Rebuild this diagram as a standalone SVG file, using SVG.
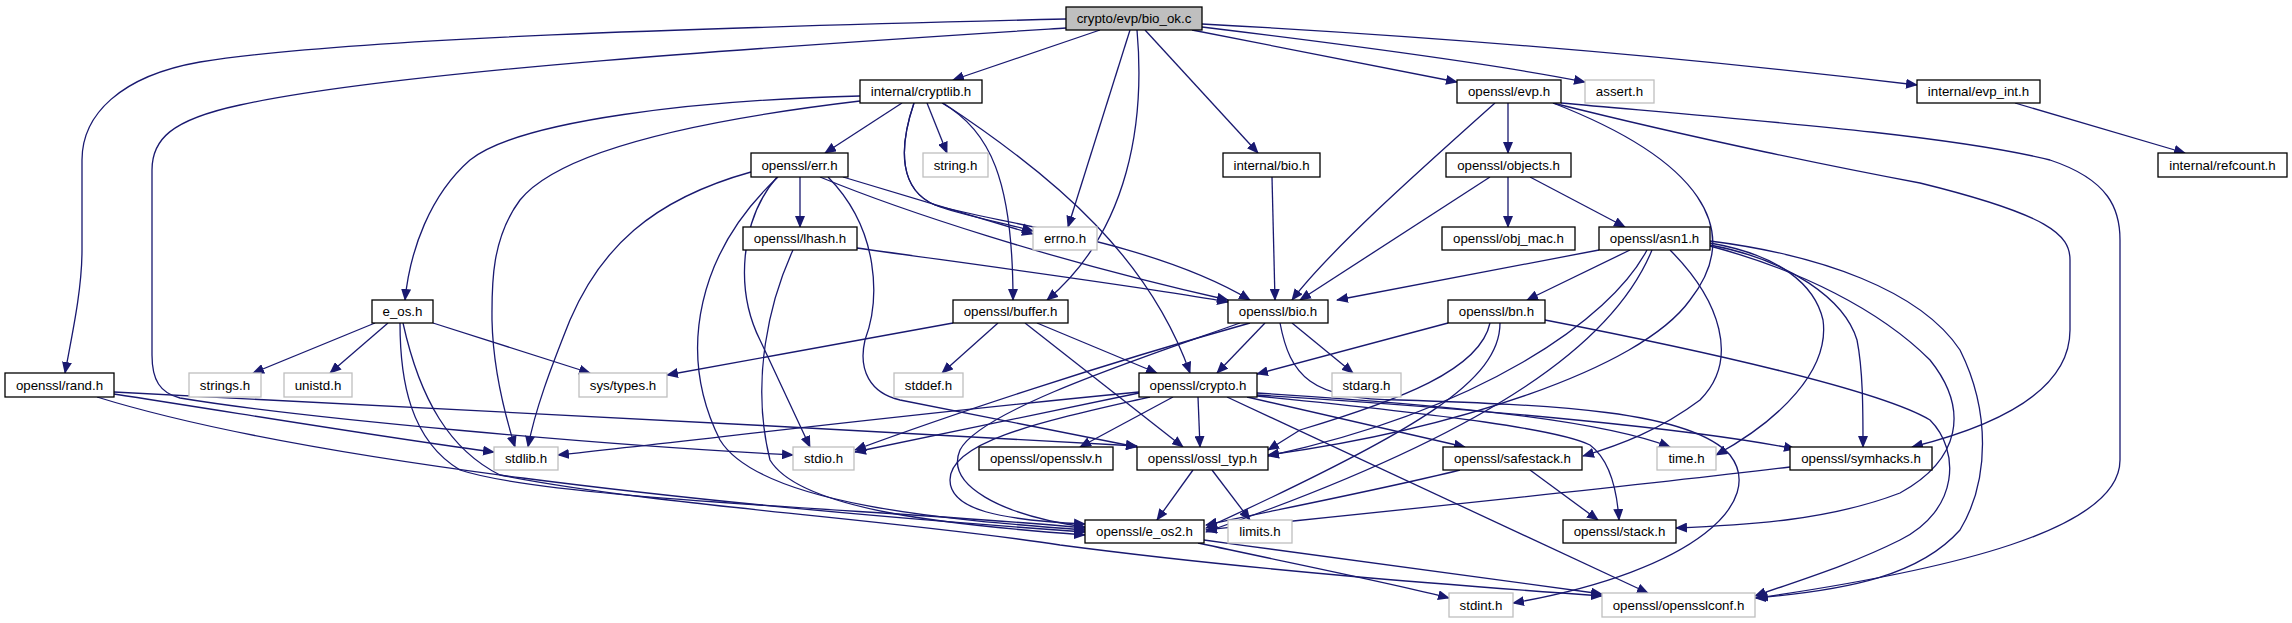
<svg xmlns="http://www.w3.org/2000/svg" width="2292" height="623" viewBox="0 0 2292 623">
<defs>
<marker id="a" markerWidth="12" markerHeight="10" refX="11" refY="5" orient="auto" markerUnits="userSpaceOnUse"><path d="M0,0 L12,5 L0,10 z" fill="#191970"/></marker>
<style>
.n rect{fill:#fff;stroke:#000;stroke-width:1.3}
.g rect{fill:#fff;stroke:#bfbfbf;stroke-width:1.3}
.r rect{fill:#bfbfbf;stroke:#000;stroke-width:1.3}
text{font-family:"Liberation Sans",Arial,sans-serif;font-size:13.3px;fill:#000;text-anchor:middle}
#edges path{fill:none;stroke:#191970;stroke-width:1.3;marker-end:url(#a)}
</style>
</defs>
<rect width="2292" height="623" fill="#fff"/>
<g id="edges">
<path d="M1100,30 L953,80"/>
<path d="M1130,30 L1068,227"/>
<path d="M1137,30 C1145,120 1130,230 1047,300"/>
<path d="M1145,30 L1258,153"/>
<path d="M1192,30 L1457,82"/>
<path d="M1202,27 C1350,45 1500,65 1585,82"/>
<path d="M1202,24 C1500,40 1750,65 1917,85"/>
<path d="M1066,19 C700,28 350,38 200,62 C120,76 82,115 82,160 L82,250 C82,290 72,335 65,373"/>
<path d="M1066,28 C800,45 400,70 240,105 C170,120 152,140 152,170 L152,355 C152,380 160,393 180,398 C300,418 600,445 793,455"/>
<path d="M902,103 L825,153"/>
<path d="M927,103 L947,153"/>
<path d="M914,103 C898,150 900,190 935,205 C960,215 1000,222 1033,231"/>
<path d="M914,103 C898,150 900,190 935,205 C990,222 1150,240 1250,300"/>
<path d="M942,103 C990,130 1013,180 1013,300"/>
<path d="M943,103 C1060,180 1150,260 1190,373"/>
<path d="M860,96 C700,100 520,120 470,160 C430,195 410,250 405,300"/>
<path d="M860,101 C700,120 560,150 520,200 C490,240 492,290 492,320 C493,370 505,415 515,447"/>
<path d="M800,177 L800,227"/>
<path d="M843,177 L1033,234"/>
<path d="M820,177 C900,210 1050,260 1228,300"/>
<path d="M777,177 C740,220 735,290 760,340 L810,447"/>
<path d="M778,177 C700,250 675,350 720,440 C760,505 950,520 1085,530"/>
<path d="M751,172 C650,200 600,250 570,320 C550,370 535,410 528,447"/>
<path d="M828,177 C880,230 880,300 865,340 C858,370 870,393 900,400 L1137,447"/>
<path d="M857,248 C1000,268 1150,288 1228,302"/>
<path d="M793,250 C770,300 750,380 770,460 C800,510 950,525 1085,535"/>
<path d="M953,323 L667,375"/>
<path d="M998,323 L942,373"/>
<path d="M1025,323 L1183,447"/>
<path d="M1037,323 L1157,373"/>
<path d="M375,323 L253,373"/>
<path d="M388,323 L330,373"/>
<path d="M433,323 L590,373"/>
<path d="M400,323 C400,380 410,440 460,470 C550,500 900,510 1085,528"/>
<path d="M403,323 C420,400 450,450 500,475 C650,505 900,520 1060,545 C1250,570 1450,585 1602,596"/>
<path d="M114,392 C400,410 800,425 1137,446"/>
<path d="M114,394 C250,415 400,440 494,452"/>
<path d="M97,397 C300,460 700,505 1085,532"/>
<path d="M1265,323 L1217,373"/>
<path d="M1292,323 L1353,373"/>
<path d="M1250,323 C1100,365 950,415 855,450"/>
<path d="M1240,323 C1150,355 980,410 960,450 C945,485 1000,515 1085,527"/>
<path d="M1280,323 C1290,375 1310,400 1400,400 C1550,405 1690,410 1730,455 C1765,500 1700,570 1513,603"/>
<path d="M1139,392 C900,415 700,440 558,455"/>
<path d="M1139,393 L855,452"/>
<path d="M1150,397 C1050,420 950,440 950,480 C950,510 1000,520 1085,524"/>
<path d="M1173,397 L1080,447"/>
<path d="M1198,397 L1200,447"/>
<path d="M1247,397 L1465,447"/>
<path d="M1227,397 L1648,593"/>
<path d="M1257,393 C1450,405 1600,420 1670,447"/>
<path d="M1257,395 C1500,410 1700,430 1795,449"/>
<path d="M1257,396 C1450,415 1560,430 1590,445 C1610,460 1617,490 1619,520"/>
<path d="M1193,470 L1157,520"/>
<path d="M1212,470 L1250,520"/>
<path d="M1530,470 L1598,520"/>
<path d="M1460,470 C1380,490 1250,515 1206,525"/>
<path d="M1790,467 C1600,490 1350,515 1206,530"/>
<path d="M1198,543 C1300,565 1400,585 1449,598"/>
<path d="M1204,540 C1350,560 1500,580 1602,594"/>
<path d="M1508,103 L1508,153"/>
<path d="M1495,103 C1420,170 1330,250 1292,300"/>
<path d="M1553,103 C1700,160 1745,230 1690,300 C1640,370 1450,430 1268,455"/>
<path d="M1553,103 C1700,140 1850,170 1920,183 C2050,215 2070,235 2070,260 L2070,330 C2070,390 2000,425 1912,447"/>
<path d="M1561,103 C1750,120 1950,135 2050,160 C2110,180 2120,210 2120,240 L2120,460 C2120,530 1950,570 1757,598"/>
<path d="M1508,177 L1508,227"/>
<path d="M1490,177 L1300,300"/>
<path d="M1530,177 L1625,227"/>
<path d="M1599,250 L1337,300"/>
<path d="M1630,250 L1527,300"/>
<path d="M1647,250 C1610,320 1480,410 1268,456"/>
<path d="M1652,250 C1615,340 1500,430 1206,532"/>
<path d="M1670,250 C1720,300 1740,360 1700,400 C1660,430 1620,445 1583,456"/>
<path d="M1710,243 C1780,255 1815,285 1823,320 C1830,370 1780,420 1716,455"/>
<path d="M1710,245 C1790,260 1845,300 1857,340 C1863,370 1863,410 1863,447"/>
<path d="M1710,246 C1800,270 1880,310 1930,360 C1970,410 1960,460 1900,493 C1830,520 1750,525 1676,528"/>
<path d="M1710,241 C1820,255 1920,290 1960,350 C1990,410 1990,480 1960,530 C1920,575 1850,590 1755,598"/>
<path d="M1448,323 L1257,374"/>
<path d="M1490,323 C1480,370 1400,400 1300,430 L1268,450"/>
<path d="M1500,323 C1500,380 1420,430 1206,528"/>
<path d="M1545,320 C1700,350 1880,390 1930,420 C1960,450 1960,510 1900,540 C1850,565 1800,580 1755,596"/>
<path d="M1272,177 L1275,300"/>
<path d="M2015,103 L2185,153"/>
</g>
<g id="root" class="r"><rect x="1066" y="7" width="136" height="23"/><text x="1134" y="23">crypto/evp/bio_ok.c</text></g>
<g id="n_cryptlib" class="n"><rect x="860" y="80" width="122" height="23"/><text x="921" y="96">internal/cryptlib.h</text></g>
<g id="n_err" class="n"><rect x="751" y="153" width="97" height="24"/><text x="799.5" y="170">openssl/err.h</text></g>
<g id="n_string" class="g"><rect x="923" y="153" width="65" height="24"/><text x="955.5" y="170">string.h</text></g>
<g id="n_lhash" class="n"><rect x="743" y="227" width="114" height="23"/><text x="800" y="243">openssl/lhash.h</text></g>
<g id="n_errno" class="g"><rect x="1033" y="227" width="64" height="23"/><text x="1065" y="243">errno.h</text></g>
<g id="n_buffer" class="n"><rect x="953" y="300" width="115" height="23"/><text x="1010.5" y="316">openssl/buffer.h</text></g>
<g id="n_eos" class="n"><rect x="372" y="300" width="61" height="23"/><text x="402.5" y="316">e_os.h</text></g>
<g id="n_ibio" class="n"><rect x="1223" y="153" width="97" height="24"/><text x="1271.5" y="170">internal/bio.h</text></g>
<g id="n_evp" class="n"><rect x="1457" y="80" width="104" height="23"/><text x="1509" y="96">openssl/evp.h</text></g>
<g id="n_assert" class="g"><rect x="1585" y="80" width="69" height="23"/><text x="1619.5" y="96">assert.h</text></g>
<g id="n_evpint" class="n"><rect x="1917" y="80" width="123" height="23"/><text x="1978.5" y="96">internal/evp_int.h</text></g>
<g id="n_refcount" class="n"><rect x="2158" y="153" width="129" height="24"/><text x="2222.5" y="170">internal/refcount.h</text></g>
<g id="n_objects" class="n"><rect x="1446" y="153" width="125" height="24"/><text x="1508.5" y="170">openssl/objects.h</text></g>
<g id="n_objmac" class="n"><rect x="1442" y="227" width="133" height="23"/><text x="1508.5" y="243">openssl/obj_mac.h</text></g>
<g id="n_asn1" class="n"><rect x="1599" y="227" width="111" height="23"/><text x="1654.5" y="243">openssl/asn1.h</text></g>
<g id="n_bio" class="n"><rect x="1228" y="300" width="100" height="23"/><text x="1278" y="316">openssl/bio.h</text></g>
<g id="n_bn" class="n"><rect x="1448" y="300" width="97" height="23"/><text x="1496.5" y="316">openssl/bn.h</text></g>
<g id="n_rand" class="n"><rect x="5" y="373" width="109" height="24"/><text x="59.5" y="390">openssl/rand.h</text></g>
<g id="n_strings" class="g"><rect x="189" y="373" width="72" height="24"/><text x="225" y="390">strings.h</text></g>
<g id="n_unistd" class="g"><rect x="284" y="373" width="68" height="24"/><text x="318" y="390">unistd.h</text></g>
<g id="n_systypes" class="g"><rect x="579" y="373" width="88" height="24"/><text x="623" y="390">sys/types.h</text></g>
<g id="n_stddef" class="g"><rect x="894" y="373" width="69" height="24"/><text x="928.5" y="390">stddef.h</text></g>
<g id="n_crypto" class="n"><rect x="1139" y="373" width="118" height="24"/><text x="1198" y="390">openssl/crypto.h</text></g>
<g id="n_stdarg" class="g"><rect x="1332" y="373" width="69" height="24"/><text x="1366.5" y="390">stdarg.h</text></g>
<g id="n_stdlib" class="g"><rect x="494" y="447" width="64" height="23"/><text x="526" y="463">stdlib.h</text></g>
<g id="n_stdio" class="g"><rect x="793" y="447" width="61" height="23"/><text x="823.5" y="463">stdio.h</text></g>
<g id="n_opensslv" class="n"><rect x="979" y="447" width="134" height="23"/><text x="1046" y="463">openssl/opensslv.h</text></g>
<g id="n_ossltyp" class="n"><rect x="1137" y="447" width="131" height="23"/><text x="1202.5" y="463">openssl/ossl_typ.h</text></g>
<g id="n_safestack" class="n"><rect x="1443" y="447" width="139" height="23"/><text x="1512.5" y="463">openssl/safestack.h</text></g>
<g id="n_time" class="g"><rect x="1657" y="447" width="59" height="23"/><text x="1686.5" y="463">time.h</text></g>
<g id="n_symhacks" class="n"><rect x="1790" y="447" width="142" height="23"/><text x="1861" y="463">openssl/symhacks.h</text></g>
<g id="n_eos2" class="n"><rect x="1085" y="520" width="119" height="23"/><text x="1144.5" y="536">openssl/e_os2.h</text></g>
<g id="n_limits" class="g"><rect x="1228" y="520" width="64" height="23"/><text x="1260" y="536">limits.h</text></g>
<g id="n_stack" class="n"><rect x="1563" y="520" width="113" height="23"/><text x="1619.5" y="536">openssl/stack.h</text></g>
<g id="n_stdint" class="g"><rect x="1449" y="593" width="64" height="24"/><text x="1481" y="610">stdint.h</text></g>
<g id="n_opensslconf" class="g"><rect x="1602" y="593" width="153" height="24"/><text x="1678.5" y="610">openssl/opensslconf.h</text></g>
</svg>
